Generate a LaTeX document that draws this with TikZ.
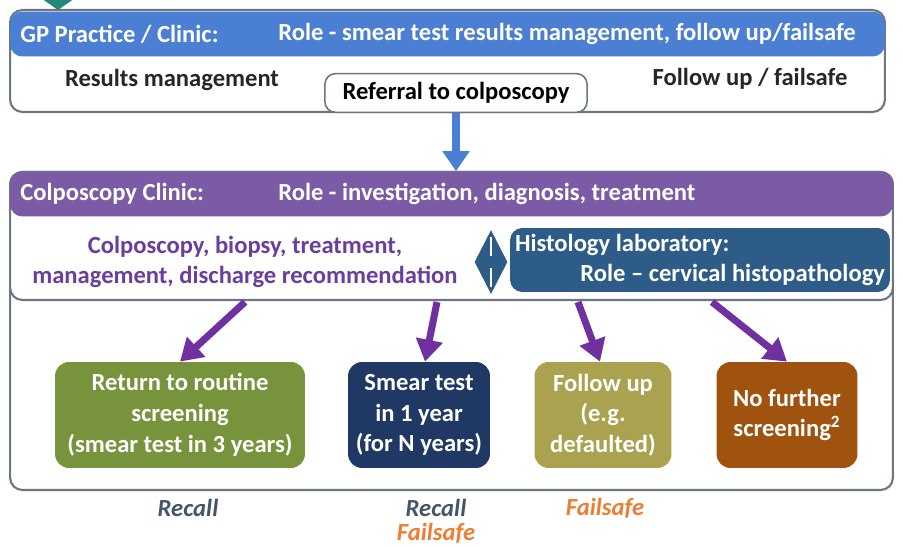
\documentclass[tikz,border=0pt]{standalone}
\usepackage{fontspec}
\setmainfont{Carlito}
\usetikzlibrary{arrows.meta,positioning,calc,shapes.geometric}
\definecolor{gpblue}{HTML}{4A7FD3}
\definecolor{framegray}{HTML}{6E7681}
\definecolor{colpurple}{HTML}{7B5AA6}
\definecolor{workpurple}{HTML}{6B3E9E}
\definecolor{pushpurple}{HTML}{7030A0}
\definecolor{histblue}{HTML}{2E5C88}
\definecolor{routgreen}{HTML}{77933C}
\definecolor{annualnavy}{HTML}{1F3864}
\definecolor{followolive}{HTML}{ABA24F}
\definecolor{stoprust}{HTML}{A0520F}
\definecolor{recallslate}{HTML}{44546A}
\definecolor{safeorange}{HTML}{ED7D31}
\definecolor{entryteal}{HTML}{23877D}
\tikzset{
  every node/.style={font=\fontsize{14}{17.5}\selectfont\bfseries},
  panel/.style={draw=framegray, fill=white, rounded corners=7pt, line width=1.2pt,
    inner sep=0pt},
  band/.style={rounded corners=7pt, inner sep=0pt, minimum height=0.9cm},
  bandtxt/.style={text=white, anchor=west, inner sep=0pt},
  bodytxt/.style={text=black!85, align=center, inner sep=0pt},
  chip/.style={draw=framegray, fill=white, rounded corners=6pt, line width=0.9pt,
    inner xsep=10pt, inner ysep=5pt},
  % the four outcomes
  outcome/.style={rounded corners=8pt, text=white, align=center,
    minimum height=2.12cm, inner sep=0pt},
  push/.style={-{Triangle[length=0.44cm,width=0.52cm]}, line width=4pt, color=pushpurple},
  refer/.style={-{Triangle[length=0.4cm,width=0.52cm]}, line width=4.5pt, color=gpblue},
  tag/.style={font=\fontsize{14}{17}\selectfont\bfseries\itshape, inner sep=0pt},
}

\begin{document}
\begin{tikzpicture}[x=0.02cm,y=-0.02cm]
  \useasboundingbox (0,0) rectangle (903,547);
  % GP practice
  \fill[entryteal] (38,-4) -- (78,-4) -- (58,10) -- cycle;
  \node[panel, minimum width=17.5cm, minimum height=2.04cm] (gp) at (447.5,61) {};
  \node[band, fill=gpblue, minimum width=17.5cm] (gphead) at (447.5,34) {};
  \node[bandtxt] (gpname) at (20,34) {GP Practice / Clinic:};
  \node[bandtxt] (gprole) at (278,34) {Role - smear test results management, follow up/failsafe};
  \node[bodytxt] (results) at (172,80) {Results management};
  \node[bodytxt] (followup) at (750,79) {Follow up / failsafe};
  \node[chip] (referral) at (456,93) {Referral to colposcopy};

  % colposcopy clinic
  \node[panel, minimum width=17.66cm, minimum height=6.36cm] (clinic) at (451.5,331) {};
  \node[panel, minimum width=17.66cm, minimum height=2.56cm] (colpo) at (451.5,236) {};
  \node[band, fill=colpurple, minimum width=17.66cm] (colhead) at (451.5,194) {};
  \node[bandtxt] (colname) at (20,194) {Colposcopy Clinic:};
  \node[bandtxt] (colrole) at (278,194) {Role - investigation, diagnosis, treatment};
  \draw[refer] (referral.south) -- (referral.south |- colhead.north);
  \node[bodytxt, text=workpurple] (colwork) at (245,262)
    {Colposcopy, biopsy, treatment,\\management, discharge recommendation};
  \node[band, fill=histblue, minimum width=7.6cm, minimum height=1.28cm] (histo) at (700,260) {};
  \node[text=white, align=flush left, text width=7.4cm, inner sep=0pt] (histotxt) at (histo)
    {Histology laboratory:\\\hspace*{\fill}Role -- cervical histopathology};
  \node[diamond, fill=histblue, minimum width=0.66cm, minimum height=1.28cm, inner sep=0pt]
    (link) at (491,262) {};
  \draw[white, line width=1.2pt] ($(link.north)!0.12!(link.south)$) -- ($(link.north)!0.4!(link.south)$);
  \draw[white, line width=1.2pt] ($(link.north)!0.6!(link.south)$) -- ($(link.north)!0.88!(link.south)$);

  % outcomes
  \node[outcome, fill=routgreen, minimum width=5cm] (routine) at (180,415)
    {Return to routine\\screening\\(smear test in 3 years)};
  \node[outcome, fill=annualnavy, minimum width=2.84cm] (annual) at (419,415)
    {Smear test\\in 1 year\\(for N years)};
  \node[outcome, fill=followolive, minimum width=2.74cm] (follow) at (603,415)
    {Follow up\\(e.g.\\defaulted)};
  \node[outcome, fill=stoprust, minimum width=2.82cm] (nofurther) at (787,415)
    {No further\\screening$^{\mathbf{2}}$};
  \coordinate (ca) at (245,302);
  \coordinate (cb) at (437,302);
  \coordinate (cc) at (578,302);
  \coordinate (cd) at (712,302);
  \draw[push] (ca) -- (routine.north);
  \draw[push] (cb) -- ($(annual.north)+(6,0)$);
  \draw[push] (cc) -- ($(follow.north)+(-3,0)$);
  \draw[push] (cd) -- (nofurther.north);

  % recall / failsafe
  \node[tag, text=recallslate] (recalla) at (188,508) {Recall};
  \node[tag, text=recallslate] (recallb) at (436,508) {Recall};
  \node[tag, text=safeorange] (failsafeb) at (436,533) {Failsafe};
  \node[tag, text=safeorange] (failsafea) at (605,508) {Failsafe};
\end{tikzpicture}
\end{document}
